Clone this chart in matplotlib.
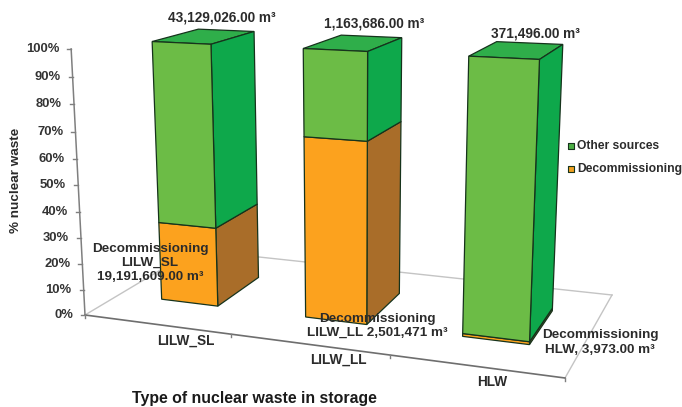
import numpy as np
import matplotlib
matplotlib.use("Agg")
import matplotlib.pyplot as plt
from matplotlib.patches import Polygon

# Data: stored volumes in m3
categories = ["LILW_SL", "LILW_LL", "HLW"]
decommissioning = [19191609, 2501471, 3973]
other_sources = [43129026, 1163686, 371496]
pct_ticks = [0, 10, 20, 30, 40, 50, 60, 70, 80, 90, 100]

plt.rcParams["font.family"] = ["Liberation Sans", "DejaVu Sans"]
plt.rcParams["font.weight"] = "bold"

fig = plt.figure(figsize=(6.82, 4.07), dpi=100)
ax = fig.add_axes([0, 0, 1, 1])
ax.set_xlim(0, 682)
ax.set_ylim(407, 0)
ax.axis("off")

# Camera for the fake 3D look: floor corners on the page, vertical vanishing point
floor_world = [(0, 0), (3, 0), (3, 1), (0, 1)]
floor_page = [(85, 315), (565, 378), (612, 295), (194, 250)]
rows = []
for (a, b), (u, v) in zip(floor_world, floor_page):
    rows.append([a, b, 1, 0, 0, 0, -u * a, -u * b, -u])
    rows.append([0, 0, 0, a, b, 1, -v * a, -v * b, -v])
H = np.linalg.svd(np.array(rows, dtype=float))[2][-1].reshape(3, 3)
H = H / H[2, 2]
vanish = np.array([351.0, 5424.0, 1.0])
scale = -1.0 / 2020.0
camera = np.column_stack([H[:, 0], H[:, 1], scale * vanish, H[:, 2]])


def project(x, d, p):
    q = camera @ np.array([x, d, p, 1.0])
    return q[0] / q[2], q[1] / q[2]


# Floor and axes
line_grey = "#7f7f7f"
ax.plot(*zip(project(0, 0, 0), project(0, 1, 0)), color="#c4c4c4", lw=1, zorder=1)
ax.plot(*zip(project(0, 1, 0), project(3, 1, 0)), color="#c4c4c4", lw=1, zorder=1)
ax.plot(*zip(project(3, 1, 0), project(3, 0, 0)), color="#c4c4c4", lw=1, zorder=1)
ax.plot(*zip(project(0, 0, 0), project(3, 0, 0)), color="#6e6e6e", lw=1.2, zorder=1)
ax.plot(*zip(project(0, 0, 0), project(0, 0, 100)), color=line_grey, lw=1.1, zorder=1)

for p in pct_ticks:
    u, v = project(0, 0, p)
    ax.plot([u - 4, u], [v, v], color=line_grey, lw=1, zorder=1)
    ax.text(u - 12, v, f"{p}%", ha="right", va="center", fontsize=9.4, color="#333333")
for i in range(4):
    u, v = project(i, 0, 0)
    ax.plot([u, u], [v, v + 3], color=line_grey, lw=1, zorder=1)

# Bars
center = 0.505
half_w = 0.2
half_d = 0.21
edge = "#16331c"
front_col = ["#fca21e", "#6cbc46"]
side_col = ["#a96d29", "#0ea84b"]
top_col = ["#e08c1a", "#2fae4a"]


def box(i, p0, p1, k):
    x0, x1 = i + center - half_w, i + center + half_w
    d0, d1 = 0.5 - half_d, 0.5 + half_d
    front = [project(x0, d0, p0), project(x1, d0, p0), project(x1, d0, p1), project(x0, d0, p1)]
    side = [project(x1, d0, p0), project(x1, d1, p0), project(x1, d1, p1), project(x1, d0, p1)]
    top = [project(x0, d0, p1), project(x1, d0, p1), project(x1, d1, p1), project(x0, d1, p1)]
    for pts, col in [(top, top_col[k]), (side, side_col[k]), (front, front_col[k])]:
        ax.add_patch(Polygon(pts, closed=True, fc=col, ec=edge, lw=0.9, zorder=2 + i))


for i in range(len(categories)):
    total = decommissioning[i] + other_sources[i]
    share = 100.0 * decommissioning[i] / total
    box(i, 0, share, 0)
    box(i, share, 100, 1)

# Text
txt = "#2b2b2b"
ax.text(185.5, 341, categories[0], ha="center", va="center", fontsize=9.8, color=txt)
ax.text(338, 360, categories[1], ha="center", va="center", fontsize=9.8, color=txt)
ax.text(492, 382, categories[2], ha="center", va="center", fontsize=9.8, color=txt)

ax.text(221.5, 18, "43,129,026.00 m³", ha="center", va="center", fontsize=9.8, color=txt, zorder=9)
ax.text(374, 23, "1,163,686.00 m³", ha="center", va="center", fontsize=9.8, color=txt, zorder=9)
ax.text(535.5, 34, "371,496.00 m³", ha="center", va="center", fontsize=9.8, color=txt, zorder=9)

ax.text(150, 263, "Decommissioning\nLILW_SL\n19,191,609.00 m³", ha="center", va="center",
        fontsize=9.7, color=txt, zorder=9, linespacing=1.24)
ax.text(377, 326, "Decommissioning\nLILW_LL 2,501,471 m³", ha="center", va="center",
        fontsize=9.7, color=txt, zorder=9, linespacing=1.24)
ax.text(600, 342.5, "Decommissioning\nHLW, 3,973.00 m³", ha="center", va="center",
        fontsize=9.7, color=txt, zorder=9, linespacing=1.24)

ax.text(254.5, 398, "Type of nuclear waste in storage", ha="center", va="center", fontsize=11.4, color="#1a1a1a")
ax.text(16, 180, "% nuclear waste", rotation=90, ha="center", va="center", fontsize=9.7, color=txt)

# Legend
for y, col, name in [(146, "#4caf45", "Other sources"), (169, "#f0a020", "Decommissioning")]:
    ax.scatter([571], [y], marker="s", s=24, c=col, edgecolors=edge, linewidths=0.8, zorder=9)
    ax.text(577, y, name, ha="left", va="center", fontsize=8.7, color=txt)

fig.savefig("out.png", dpi=100)
